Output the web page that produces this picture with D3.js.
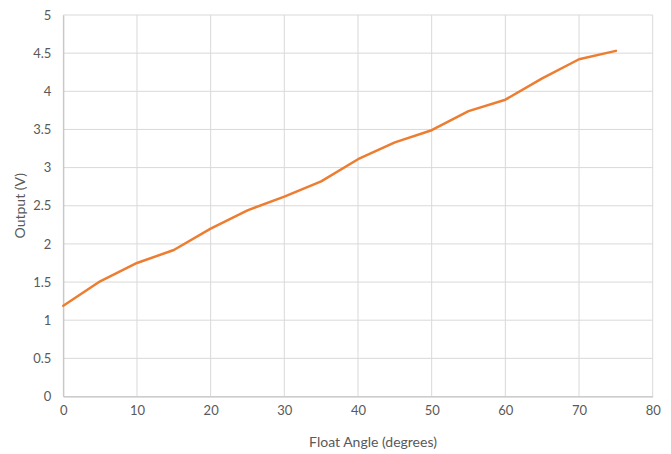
<!DOCTYPE html>
<html>
<head>
<meta charset="utf-8">
<script src="https://cdn.jsdelivr.net/npm/d3@7"></script>
<style>
  body { margin: 0; background: #fff; }
  text { font-family: Lato, "Open Sans", sans-serif; fill: #595959; }
</style>
</head>
<body>
<div id="chart"></div>
<script>
// float angle vs sensor output
let angles = [0, 5, 10, 15, 20, 25, 30, 35, 40, 45, 50, 55, 60, 65, 70, 75];
let outputs = [1.19, 1.51, 1.75, 1.92, 2.20, 2.44, 2.62, 2.82, 3.11, 3.33, 3.49, 3.74, 3.89, 4.17, 4.42, 4.53];
let xTicks = [0, 10, 20, 30, 40, 50, 60, 70, 80];
let yTicks = [0, 0.5, 1, 1.5, 2, 2.5, 3, 3.5, 4, 4.5, 5];

let width = 671, height = 454;
let margin = {top: 15, right: 18.3, bottom: 57.5, left: 63.3};
let plotW = width - margin.left - margin.right,
    plotH = height - margin.top - margin.bottom;

let svg = d3.select("#chart")
    .append("svg")
    .attr("width", width)
    .attr("height", height)
    .append("g")
    .attr("transform", `translate(${margin.left},${margin.top})`);

let x = d3.scaleLinear().domain([0, 80]).range([0, plotW]);
let y = d3.scaleLinear().domain([0, 5]).range([plotH, 0]);

// gridlines
svg.append("g")
    .selectAll("line.h")
    .data(yTicks)
    .enter()
    .append("line")
    .attr("x1", 0).attr("x2", plotW)
    .attr("y1", d => y(d)).attr("y2", d => y(d))
    .attr("stroke", "#d9d9d9")
    .attr("stroke-width", 1);

svg.append("g")
    .selectAll("line.v")
    .data(xTicks)
    .enter()
    .append("line")
    .attr("x1", d => x(d)).attr("x2", d => x(d))
    .attr("y1", 0).attr("y2", plotH)
    .attr("stroke", "#d9d9d9")
    .attr("stroke-width", 1);

// axes
let xAxis = svg.append("g")
    .attr("transform", `translate(0,${plotH})`)
    .call(d3.axisBottom(x).tickValues(xTicks).tickSize(0).tickPadding(9));
xAxis.select(".domain").attr("stroke", "#bfbfbf");
xAxis.selectAll("text").style("font-size", "13px").attr("fill", "#595959");

let yAxis = svg.append("g")
    .call(d3.axisLeft(y).tickValues(yTicks).tickSize(0).tickPadding(12).tickFormat(d => d));
yAxis.select(".domain").attr("stroke", "#bfbfbf");
yAxis.selectAll("text").style("font-size", "13px").attr("fill", "#595959");

// data line
let line = d3.line()
    .x((d, i) => x(angles[i]))
    .y(d => y(d));

svg.append("path")
    .datum(outputs)
    .attr("fill", "none")
    .attr("stroke", "#ed7d31")
    .attr("stroke-width", 2.5)
    .attr("stroke-linejoin", "round")
    .attr("stroke-linecap", "round")
    .attr("d", line);

// axis titles
svg.append("text")
    .attr("transform", `translate(${373 - margin.left}, ${plotH + 50})`)
    .style("text-anchor", "middle")
    .style("font-size", "14px")
    .text("Float Angle (degrees)");

svg.append("text")
    .attr("transform", `translate(${25 - margin.left}, ${plotH / 2}) rotate(-90)`)
    .style("text-anchor", "middle")
    .style("font-size", "14px")
    .text("Output (V)");
</script>
</body>
</html>
